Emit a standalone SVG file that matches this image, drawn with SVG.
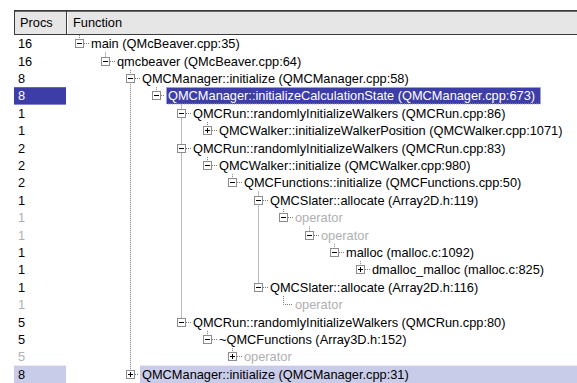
<svg xmlns="http://www.w3.org/2000/svg" width="577" height="383" viewBox="0 0 577 383">
<style>
.t{font-family:"Liberation Sans",Arial,sans-serif;font-size:12.8px;fill:#000}
.g{fill:#b0b0b0}
.w{fill:#fff}
.box{fill:#fff;stroke:#8c8c8c;stroke-width:1}
.sg{stroke:#000;stroke-width:1}
.dot{stroke:#7a7a7a;stroke-width:1;stroke-dasharray:1 1;fill:none}
.sel{fill:#3d3da8}
.hl{fill:#c9cce8}
</style>
<defs>
<g id="minus"><rect class="box" x="0.5" y="0.5" width="8" height="8"/><line class="sg" x1="2" y1="4.5" x2="7" y2="4.5"/></g>
<g id="plus"><rect class="box" x="0.5" y="0.5" width="8" height="8"/><line class="sg" x1="2" y1="4.5" x2="7" y2="4.5"/><line class="sg" x1="4.5" y1="2" x2="4.5" y2="7"/></g>
</defs>
<rect x="0" y="0" width="577" height="383" fill="#fff"/>
<g id="header">
<rect x="14.5" y="10.5" width="564" height="24" fill="#e6e6e6" stroke="#3a3a3a"/>
<line x1="15" y1="11.5" x2="577" y2="11.5" stroke="#6a6a6a"/>
<line x1="66.5" y1="11" x2="66.5" y2="34" stroke="#3a3a3a"/>
<line x1="67.5" y1="12" x2="67.5" y2="34" stroke="#fff"/>
<text class="t" x="20" y="27">Procs</text>
<text class="t" x="73" y="27">Function</text>
</g>
<g id="highlights">
<rect class="sel" x="14" y="87.2" width="52" height="17.4"/>
<rect class="sel" x="166.5" y="87.5" width="374" height="16.5" stroke="#a0a0e8" stroke-dasharray="1 1"/>
<rect class="hl" x="14" y="365.6" width="52" height="17.4"/>
<rect class="hl" x="140" y="365.6" width="437" height="17.4"/>
</g>
<g id="connectors">
<path class="dot" d="M79.5 35V39.5M105.5 52.4V57.5M156.5 87.2V91.5M207.5 122V126.5M207.5 156.8V161.5M232.5 174.2V178.5M283.5 209V213.5M309.5 226.4V231.5M334.5 243.8V248.5M360.5 261.2V265.5M207.5 330.8V335.5M232.5 348.2V352.5"/>
<path class="dot" d="M130.5 69.8V370.5M181.5 104.6V318.5M258.5 191.6V283.5"/>
<path class="dot" d="M283.5 296V304.5H293"/>
<path class="dot" d="M84 43.5H89M110 61.5H115M135 78.5H140M161 95.5H164M186 113.5H191M212 130.5H217M186 148.5H191M212 165.5H217M237 182.5H242M263 200.5H268M288 217.5H293M314 235.5H319M339 252.5H344M365 269.5H370M263 287.5H268M186 322.5H191M212 339.5H217M237 356.5H242M135 374.5H138"/>
</g>
<g id="n1"><text class="t" x="18" y="48.2">16</text><use href="#minus" x="75" y="39"/><text class="t" x="91" y="48.2">main (QMcBeaver.cpp:35)</text></g>
<g id="n2"><text class="t" x="18" y="65.6">16</text><use href="#minus" x="101" y="57"/><text class="t" x="117" y="65.6">qmcbeaver (QMcBeaver.cpp:64)</text></g>
<g id="n3"><text class="t" x="18" y="83">8</text><use href="#minus" x="126" y="74"/><text class="t" x="142" y="83">QMCManager::initialize (QMCManager.cpp:58)</text></g>
<g id="n4"><text class="t w" x="18" y="100.4">8</text><use href="#minus" x="152" y="91"/><text class="t w" x="168" y="100.4">QMCManager::initializeCalculationState (QMCManager.cpp:673)</text></g>
<g id="n5"><text class="t" x="18" y="117.8">1</text><use href="#minus" x="177" y="109"/><text class="t" x="193" y="117.8">QMCRun::randomlyInitializeWalkers (QMCRun.cpp:86)</text></g>
<g id="n6"><text class="t" x="18" y="135.2">1</text><use href="#plus" x="203" y="126"/><text class="t" x="219" y="135.2">QMCWalker::initializeWalkerPosition (QMCWalker.cpp:1071)</text></g>
<g id="n7"><text class="t" x="18" y="152.6">2</text><use href="#minus" x="177" y="144"/><text class="t" x="193" y="152.6">QMCRun::randomlyInitializeWalkers (QMCRun.cpp:83)</text></g>
<g id="n8"><text class="t" x="18" y="170">2</text><use href="#minus" x="203" y="161"/><text class="t" x="219" y="170">QMCWalker::initialize (QMCWalker.cpp:980)</text></g>
<g id="n9"><text class="t" x="18" y="187.4">2</text><use href="#minus" x="228" y="178"/><text class="t" x="244" y="187.4">QMCFunctions::initialize (QMCFunctions.cpp:50)</text></g>
<g id="n10"><text class="t" x="18" y="204.8">1</text><use href="#minus" x="254" y="196"/><text class="t" x="270" y="204.8">QMCSlater::allocate (Array2D.h:119)</text></g>
<g id="n11"><text class="t g" x="18" y="222.2">1</text><use href="#minus" x="279" y="213"/><text class="t g" x="295" y="222.2">operator</text></g>
<g id="n12"><text class="t g" x="18" y="239.6">1</text><use href="#minus" x="305" y="231"/><text class="t g" x="321" y="239.6">operator</text></g>
<g id="n13"><text class="t" x="18" y="257">1</text><use href="#minus" x="330" y="248"/><text class="t" x="346" y="257">malloc (malloc.c:1092)</text></g>
<g id="n14"><text class="t" x="18" y="274.4">1</text><use href="#plus" x="356" y="265"/><text class="t" x="372" y="274.4">dmalloc_malloc (malloc.c:825)</text></g>
<g id="n15"><text class="t" x="18" y="291.8">1</text><use href="#minus" x="254" y="283"/><text class="t" x="270" y="291.8">QMCSlater::allocate (Array2D.h:116)</text></g>
<g id="n16"><text class="t g" x="18" y="309.2">1</text><text class="t g" x="295" y="309.2">operator</text></g>
<g id="n17"><text class="t" x="18" y="326.6">5</text><use href="#minus" x="177" y="318"/><text class="t" x="193" y="326.6">QMCRun::randomlyInitializeWalkers (QMCRun.cpp:80)</text></g>
<g id="n18"><text class="t" x="18" y="344">5</text><use href="#minus" x="203" y="335"/><text class="t" x="219" y="344">~QMCFunctions (Array3D.h:152)</text></g>
<g id="n19"><text class="t g" x="18" y="361.4">5</text><use href="#plus" x="228" y="352"/><text class="t g" x="244" y="361.4">operator</text></g>
<g id="n20"><text class="t" x="18" y="378.8">8</text><use href="#plus" x="126" y="370"/><text class="t" x="142" y="378.8">QMCManager::initialize (QMCManager.cpp:31)</text></g>
</svg>
